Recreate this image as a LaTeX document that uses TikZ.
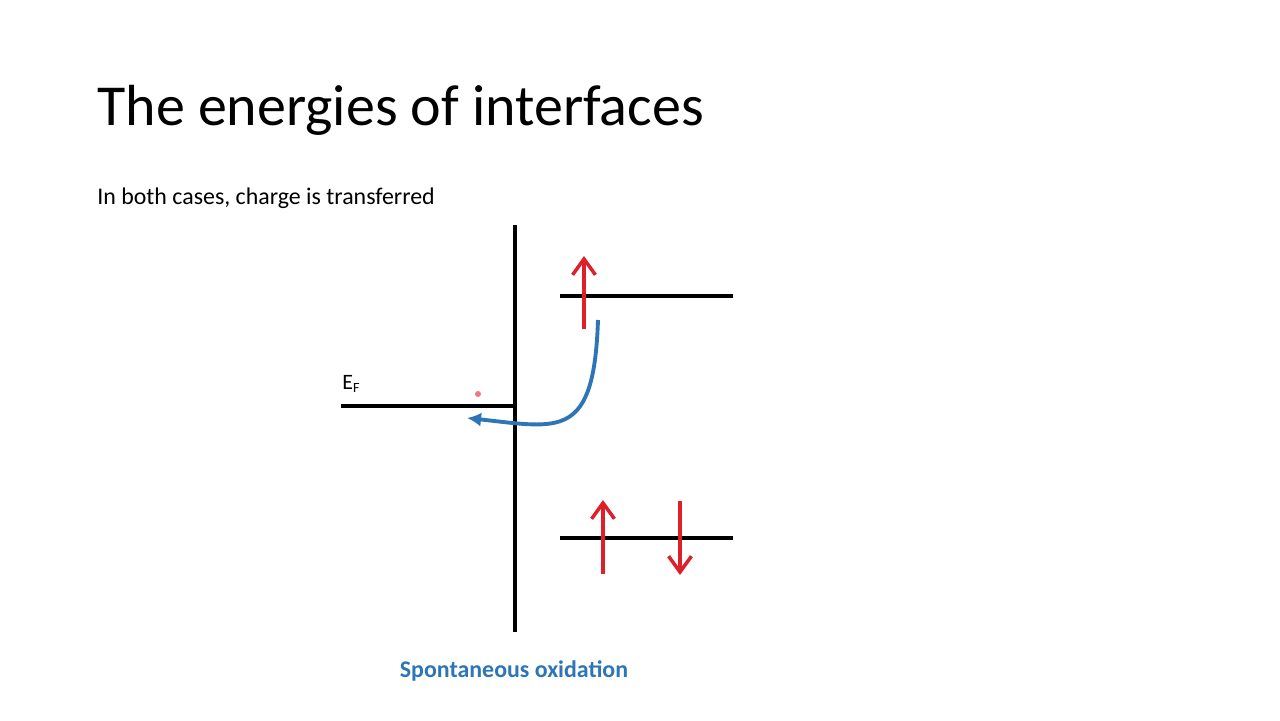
\documentclass[tikz,border=0pt]{standalone}
\usepackage{fontspec}
\setmainfont{Carlito}
\usetikzlibrary{arrows,arrows.meta,calc}
\definecolor{spinred}{RGB}{222,32,42}
\definecolor{flowblue}{RGB}{46,117,182}

\begin{document}
\begin{tikzpicture}[x=0.02cm,y=-0.02cm]
\tikzstyle{level}=[line width=1.9pt,black]
\tikzstyle{spin}=[line width=2pt,spinred,-{Straight Barb[length=9pt,width=13pt]}]
\useasboundingbox (0,0) rectangle (1280,720);
\node[anchor=base west,inner sep=0pt,font=\fontsize{33}{40}\selectfont] (title) at (97,125) {The energies of interfaces};
\node[anchor=west,inner sep=0pt,font=\fontsize{13.6}{16}\selectfont] (sub) at (97,198) {In both cases, charge is transferred};
% interface and levels
\coordinate (itop) at (515,225);
\coordinate (ibot) at (515,632);
\draw[level] (itop) -- (ibot);
\coordinate (efl) at (341,406);
\coordinate (efr) at (515,406);
\draw[level] (efl) -- (efr);
\node[anchor=base west,inner sep=0pt,font=\fontsize{12.5}{14}\selectfont] (ef) at (342,389) {E\raisebox{-0.35ex}{\fontsize{8}{9}\selectfont F}};
\coordinate (upl) at (560,296);
\coordinate (upr) at (733,296);
\draw[level] (upl) -- (upr);
\coordinate (lol) at (560,538);
\coordinate (lor) at (733,538);
\draw[level] (lol) -- (lor);
% spins
\coordinate (s1a) at (584,329);
\coordinate (s1b) at (584,256);
\draw[spin] (s1a) -- (s1b);
\coordinate (s2a) at (603,574);
\coordinate (s2b) at (603,500);
\draw[spin] (s2a) -- (s2b);
\coordinate (s3a) at (680,501);
\coordinate (s3b) at (680,575);
\draw[spin] (s3a) -- (s3b);
\fill[spinred!60] (478,394) circle (3);
% transfer
\coordinate (ta) at (598,320);
\coordinate (tb) at (467,418);
\draw[line width=2.2pt,flowblue,-{Latex[length=8pt,width=8pt]}] (ta) .. controls (594,440) and (560,428) .. (tb);
\node[font=\bfseries\fontsize{13.6}{16}\selectfont,text=flowblue,inner sep=0pt] (cap) at (514,671) {Spontaneous oxidation};
\end{tikzpicture}
\end{document}
